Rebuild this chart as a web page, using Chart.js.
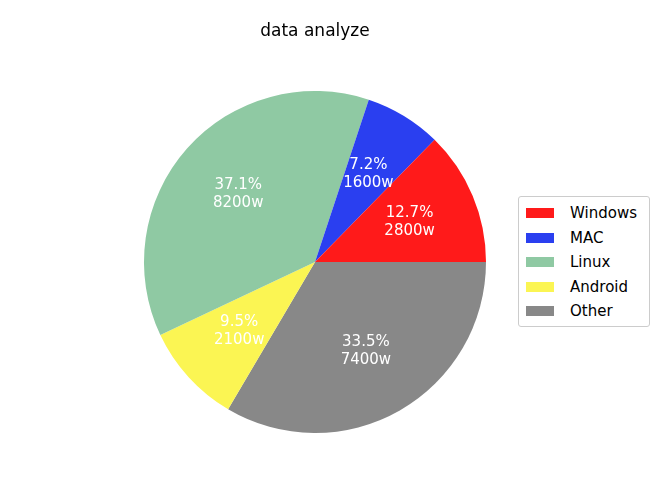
<!DOCTYPE html>
<html><head><meta charset="utf-8">
<script src="https://cdn.jsdelivr.net/npm/chart.js@4"></script>
<style>
body{margin:0;background:#fff;font-family:"DejaVu Sans",sans-serif;}
#wrap{position:relative;width:662px;height:500px;}
#title{position:absolute;top:20px;left:0;width:630px;text-align:center;font-size:17px;color:#000;}
#legend{position:absolute;left:518px;top:196px;width:130px;border:1px solid #ccc;border-radius:3px;padding:4px 0 2px 0;background:#fff;font-size:15px;}
.item{display:flex;align-items:center;height:24.5px;padding-left:7px;}
.sw{width:28px;height:10px;margin-right:16px;}
</style></head><body>
<div id="wrap">
<canvas id="c" width="662" height="500"></canvas>
<div id="title">data analyze</div>
<div id="legend"></div>
</div>
<script>
const categories=["Windows","MAC","Linux","Android","Other"];
const values=[2800,1600,8200,2100,7400];
const colors=["#ff1a1a","#2a3ff0","#8fc9a3","#fbf553","#888888"];

const leg=document.getElementById('legend');
categories.forEach((c,i)=>{leg.innerHTML+=`<div class="item"><span class="sw" style="background:${colors[i]}"></span>${c}</div>`;});

const total=values.reduce((a,b)=>a+b,0);
const rc=[...categories].reverse(), rv=[...values].reverse(), rcol=[...colors].reverse();
const labelPlugin={id:'lbl',afterDatasetsDraw(chart){
  const ctx=chart.ctx;const meta=chart.getDatasetMeta(0);
  ctx.save();ctx.fillStyle='#fff';ctx.font='15px "DejaVu Sans"';ctx.textAlign='center';ctx.textBaseline='middle';
  meta.data.forEach((a,i)=>{
    const ang=(a.startAngle+a.endAngle)/2, r=a.outerRadius*0.6;
    const x=a.x+Math.cos(ang)*r, y=a.y+Math.sin(ang)*r;
    const v=rv[i];
    ctx.fillText((v/total*100).toFixed(1)+'%',x,y-9);
    ctx.fillText(v+'w',x,y+9);
  });
  ctx.restore();
}};
new Chart(document.getElementById('c'),{type:'pie',
 data:{labels:rc,datasets:[{data:rv,backgroundColor:rcol,borderWidth:0}]},
 options:{responsive:false,animation:false,rotation:90,
  layout:{padding:{left:144,right:176,top:91,bottom:67}},
  plugins:{legend:{display:false},tooltip:{enabled:false}}},
 plugins:[labelPlugin]});
</script>
</body></html>
